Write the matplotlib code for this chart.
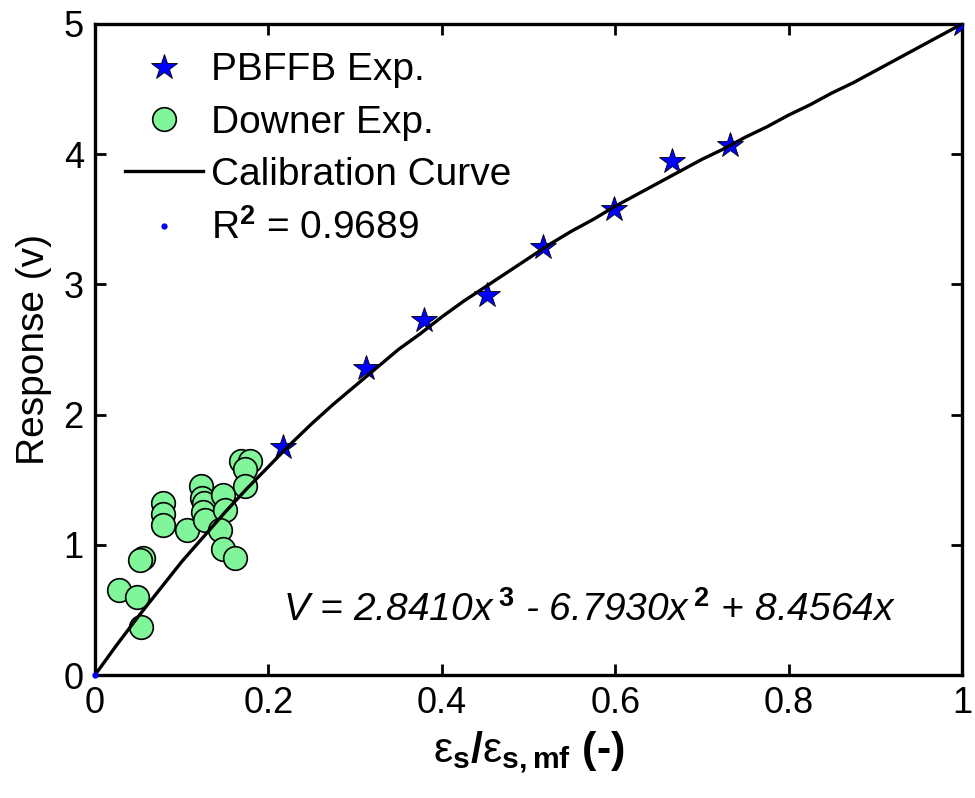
import numpy as np
import matplotlib
matplotlib.use("Agg")
import matplotlib.pyplot as plt

plt.rcParams['font.family'] = ['Liberation Sans', 'DejaVu Sans']
plt.rcParams['mathtext.fontset'] = 'custom'
plt.rcParams['mathtext.rm'] = 'Liberation Sans'
plt.rcParams['mathtext.it'] = 'Liberation Sans:italic'
plt.rcParams['mathtext.bf'] = 'Liberation Sans:bold'

# PBFFB experiments (stars)
pb_x = [0.217, 0.313, 0.380, 0.452, 0.517, 0.599, 0.666, 0.732, 1.0]
pb_y = [1.75, 2.36, 2.73, 2.92, 3.29, 3.58, 3.95, 4.07, 5.0]

# Downer experiments (circles)
dn_x = [0.053, 0.028, 0.048, 0.055, 0.052, 0.078, 0.078, 0.078, 0.106,
        0.122, 0.123, 0.126, 0.125, 0.127, 0.148, 0.150, 0.144, 0.148,
        0.162, 0.169, 0.179, 0.173, 0.173]
dn_y = [0.37, 0.65, 0.60, 0.90, 0.88, 1.32, 1.24, 1.15, 1.11,
        1.45, 1.36, 1.32, 1.25, 1.19, 1.38, 1.27, 1.11, 0.97,
        0.90, 1.64, 1.64, 1.58, 1.45]

# calibration curve
cal_x = [0.0, 0.025, 0.05, 0.075, 0.1, 0.125, 0.15, 0.175, 0.2, 0.225,
         0.25, 0.275, 0.3, 0.325, 0.35, 0.375, 0.4, 0.425, 0.45, 0.475,
         0.5, 0.525, 0.55, 0.575, 0.6, 0.625, 0.65, 0.675, 0.7, 0.725,
         0.75, 0.775, 0.8, 0.825, 0.85, 0.875, 0.9, 0.925, 0.95, 0.975, 1.0]
cal_y = [0.0, 0.23, 0.45, 0.66, 0.87, 1.06, 1.25, 1.43, 1.60, 1.77,
         1.93, 2.08, 2.22, 2.36, 2.50, 2.62, 2.75, 2.87, 2.98, 3.09,
         3.20, 3.31, 3.41, 3.50, 3.60, 3.69, 3.78, 3.87, 3.96, 4.04,
         4.13, 4.21, 4.30, 4.38, 4.47, 4.55, 4.64, 4.73, 4.82, 4.91, 5.0]

r2_x = [0.0]
r2_y = [0.0]

fig = plt.figure(figsize=(9.75, 7.98), dpi=100)
ax = fig.add_axes([0.0974, 0.1541, 0.8893, 0.8159])

ax.plot(pb_x, pb_y, '*', color='#0000ff', mec='black', mew=0.6, ms=19,
        label='PBFFB Exp.', zorder=3)
ax.plot(dn_x, dn_y, 'o', color='#80f59a', mec='black', mew=1.2, ms=17,
        label='Downer Exp.', zorder=2)
ax.plot(cal_x, cal_y, '-', color='black', lw=2.4, label='Calibration Curve',
        zorder=4)
ax.plot(r2_x, r2_y, '.', color='#0000ff', ms=7,
        label=r'R$^{\mathbf{2}}$ = 0.9689', zorder=5, clip_on=False)

ax.set_xlim(0, 1)
ax.set_ylim(0, 5)
ax.set_xticks([0, 0.2, 0.4, 0.6, 0.8, 1])
ax.set_xticklabels(['0', '0.2', '0.4', '0.6', '0.8', '1'])
ax.set_yticks([0, 1, 2, 3, 4, 5])
ax.tick_params(direction='in', length=8, width=2, labelsize=26,
               top=True, right=True, pad=8)
for s in ax.spines.values():
    s.set_linewidth(2.4)

ax.set_ylabel('Response (v)', fontsize=28, labelpad=8)
ax.set_xlabel(r'$\mathrm{ε}_{\mathbf{s}}\mathbf{/}\mathrm{ε}_{\mathbf{s,mf}}$ (-)',
              fontsize=31, fontweight='bold', labelpad=6)

ax.text(0.57, 0.5,
        r'V = 2.8410x$^{\;\mathbf{3}}$ - 6.7930x$^{\;\mathbf{2}}$ + 8.4564x',
        fontsize=28, style='italic', ha='center', va='center')

ax.legend(loc='upper left', bbox_to_anchor=(-0.006, 1.01), frameon=False,
          fontsize=28, handlelength=2.0, handletextpad=0.22,
          labelspacing=0.42, borderpad=0.4)

fig.savefig('out.png', dpi=100)
